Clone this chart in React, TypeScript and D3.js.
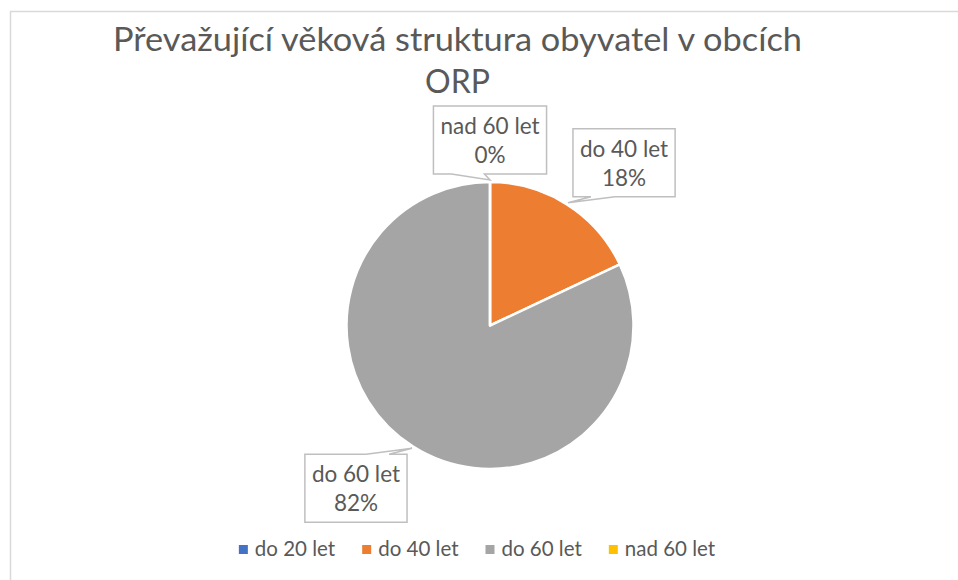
import React from "react";
import * as d3 from "d3";

const categories = ["do 20 let", "do 40 let", "do 60 let", "nad 60 let"];
const values = [0, 18, 82, 0];
const colors = ["#4472C4", "#ED7D31", "#A5A5A5", "#FFC000"];
const titleLines = ["Převažující věková struktura obyvatel v obcích", "ORP"];
const labelled = ["do 40 let", "do 60 let", "nad 60 let"];

const W = 958;
const H = 580;
const FONT = "Lato, 'Open Sans', sans-serif";
const TXT = "#595959";

function measure(text: string, size: number) {
  const c = document.createElement("canvas").getContext("2d")!;
  c.font = `${size}px Lato`;
  return c.measureText(text).width;
}

export default function App() {
  const cx = 490;
  const cy = 325.5;
  const r = 143.5;
  const pie = d3.pie<number>().sort(null).value((d) => d);
  const arcs = pie(values);
  const arc = d3.arc<d3.PieArcDatum<number>>().innerRadius(0).outerRadius(r);

  const labelSize = 22.5;
  const legendSize = 20.5;

  const placement: Record<string, { side: "bottom" | "top"; corner: "left" | "right" | "center"; dx: number; dy: number }> = {
    "nad 60 let": { side: "bottom", corner: "center", dx: 0, dy: -6 },
    "do 40 let": { side: "bottom", corner: "left", dx: 5, dy: -6 },
    "do 60 let": { side: "top", corner: "right", dx: -5, dy: 6 },
  };

  const labels = arcs
    .map((a, i) => ({ a, i, name: categories[i] }))
    .filter((d) => labelled.includes(d.name))
    .map(({ a, i, name }) => {
      const mid = (a.startAngle + a.endAngle) / 2;
      const tr = r + 2;
      const tx = cx + tr * Math.sin(mid);
      const ty = cy - tr * Math.cos(mid);
      const pct = d3.format(".0%")(values[i] / d3.sum(values));
      const tw = Math.max(measure(name, labelSize), measure(pct, labelSize));
      const bw = tw + 14;
      const bh = 68;
      const p = placement[name];
      let x0: number, y0: number;
      if (p.corner === "center") x0 = tx - bw / 2;
      else if (p.corner === "left") x0 = tx + p.dx;
      else x0 = tx + p.dx - bw;
      if (p.side === "bottom") y0 = ty + p.dy - bh;
      else y0 = ty + p.dy;
      const x1 = x0 + bw;
      const y1 = y0 + bh;
      let path: string;
      if (p.side === "bottom") {
        let b1: number, b2: number;
        if (p.corner === "right") { b1 = x1 - 42; b2 = x1 - 18; }
        else { b1 = x0 + 18; b2 = x0 + 42; }
        if (p.corner === "center") { b1 = x0 + 18; b2 = x0 + 51; }
        path = `M${x0},${y0}H${x1}V${y1}H${b2}L${tx},${ty}L${b1},${y1}H${x0}Z`;
      } else {
        let b1: number, b2: number;
        if (p.corner === "right") { b1 = x1 - 41; b2 = x1 - 18; }
        else { b1 = x0 + 18; b2 = x0 + 42; }
        path = `M${x0},${y0}H${b1}L${tx},${ty}L${b2},${y0}H${x1}V${y1}H${x0}Z`;
      }
      return { name, pct, x0, y0, x1, y1, path, cxm: (x0 + x1) / 2 };
    });

  const legendItems = categories.map((c) => ({ c, w: 9 + 7 + measure(c, legendSize) }));
  const gap = 27;
  const totalW = d3.sum(legendItems, (d) => d.w) + gap * (legendItems.length - 1);
  let lx = 477 - totalW / 2;
  const legendPos = legendItems.map((d) => {
    const x = lx;
    lx += d.w + gap;
    return x;
  });

  return (
    <svg width={W} height={H} style={{ position: "absolute", left: 0, top: 0, background: "#fff" }}>
      <rect x={10.5} y={11.5} width={1000} height={700} fill="#fff" stroke="#D9D9D9" strokeWidth={1.5} />
      <text x={457.5} y={51} textAnchor="middle" fontFamily={FONT} fontSize={32} fill={TXT} textLength={689} lengthAdjust="spacingAndGlyphs">
        {titleLines[0]}
      </text>
      <text x={457.5} y={93} textAnchor="middle" fontFamily={FONT} fontSize={32} fill={TXT}>
        {titleLines[1]}
      </text>
      <g transform={`translate(${cx},${cy})`}>
        {arcs.map((a, i) => (
          <path key={i} d={arc(a) || ""} fill={colors[i]} stroke="#fff" strokeWidth={2.5} strokeLinejoin="round" />
        ))}
      </g>
      {labels.map((l) => (
        <g key={l.name}>
          <path d={l.path} fill="#fff" stroke="#BFBFBF" strokeWidth={1.5} />
          <text x={l.cxm} y={l.y0 + 28} textAnchor="middle" fontFamily={FONT} fontSize={labelSize} fill={TXT}>
            {l.name}
          </text>
          <text x={l.cxm} y={l.y0 + 57} textAnchor="middle" fontFamily={FONT} fontSize={labelSize} fill={TXT}>
            {l.pct}
          </text>
        </g>
      ))}
      {categories.map((c, i) => (
        <g key={c}>
          <rect x={legendPos[i]} y={545} width={9} height={9} fill={colors[i]} />
          <text x={legendPos[i] + 16} y={556} fontFamily={FONT} fontSize={legendSize} fill={TXT}>
            {c}
          </text>
        </g>
      ))}
    </svg>
  );
}
